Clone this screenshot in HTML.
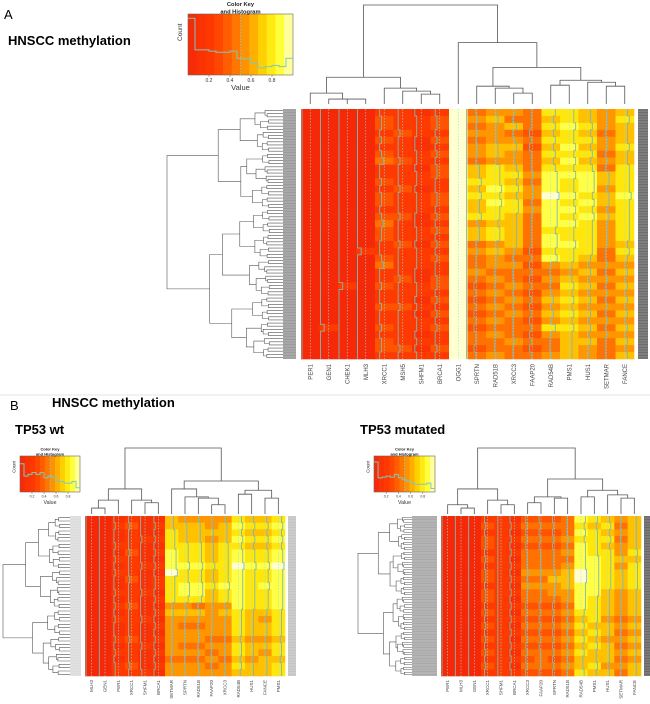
<!DOCTYPE html>
<html><head><meta charset="utf-8">
<style>
html,body{margin:0;padding:0;background:#fff;}
svg{display:block;font-family:"Liberation Sans",sans-serif;}
.ttl{font-family:"Liberation Sans",sans-serif;font-weight:bold;}
</style></head>
<body>
<svg id="fig" width="650" height="704" viewBox="0 0 650 704" xmlns="http://www.w3.org/2000/svg">
<text x="4" y="19" font-size="13">A</text>
<text x="8" y="45" font-size="13" class="ttl">HNSCC methylation</text>
<line x1="0" y1="395" x2="650" y2="395" stroke="#e4e4e4" stroke-width="1"/>
<text x="10" y="410" font-size="13">B</text>
<text x="52" y="407" font-size="13" class="ttl">HNSCC methylation</text>
<text x="15" y="434" font-size="13" class="ttl">TP53 wt</text>
<text x="360" y="434" font-size="13" class="ttl">TP53 mutated</text>
<g id="layer"></g>
</svg>
<script>
// ---------- DATA ----------
const colsA = ["PER1","GEN1","CHEK1","MLH3","XRCC1","MSH5","SHFM1","BRCA1","OGG1","SPRTN","RAD51B","XRCC3","FAAP20","RAD54B","PMS1","HUS1","SETMAR","FANCE"];
const valsA = [
"000000000000000000000000000000000000",
"000000000000000000000000000000020000",
"000000000000000000000000020000000000",
"000000000000000000002000000000000000",
"233232342232332343322342232232232332",
"222322232223222322232222322232222232",
"122211221221222112212221122121221212",
"233232323322332323232322332323232232",
"999999999999999999999999999999999999",
"454545546676766756645445434343434434",
"565556657778787767756554545454545445",
"546456556767677666665454454545444544",
"444343444545545444443434343434343434",
"767676767888988887887854545656575445",
"778778787877878787787765676767676666",
"667676767888787877777656565656565655",
"555455454665665655554454545454545444",
"676667667777877777767656565656565656"];
const colsBwt = ["MLH3","GEN1","PER1","XRCC1","SHFM1","BRCA1","SETMAR","SPRTN","RAD51B","FAAP20","XRCC3","RAD54B","HUS1","FANCE","PMS1"];
const valsBwt = [
"000000000000000000000000",
"000000000000000000000000",
"121121212112121211212122",
"232223222322232222322232",
"111211121112111211121112",
"121212121221212121212121",
"667778889777756555555455",
"566677787788756545545455",
"566677787788746545545455",
"556566676676655555454545",
"566677777787756555455455",
"787878898888887777677676",
"676767787777776666566566",
"676767787787776566565666",
"787878898888887777677677"];
const colsBmut = ["PER1","MLH3","GEN1","XRCC1","SHFM1","BRCA1","XRCC3","FAAP20","SPRTN","RAD51B","RAD54B","PMS1","HUS1","SETMAR","FANCE"];
const valsBmut = [
"000000000000000000000000",
"000000000000000000000000",
"000000000000000000000000",
"232332323323323232323232",
"222222222222222222222222",
"121212121212121212121212",
"343434445454434343434343",
"343434445454434343434443",
"343434445655434343434343",
"444545456665545454545454",
"878788889988887676767667",
"767777888888777767676676",
"676767777776666566566656",
"545455656665555454545454",
"666667677776666565656566"];
const histA = [0.95,0.42,0.42,0.4,0.38,0.38,0.4,0.28,0.27,0.2,0.12,0.14,0.16,0.14,0.28];
const histBwt = [0.8,0.45,0.5,0.55,0.5,0.55,0.4,0.45,0.42,0.3,0.3,0.25,0.25,0.3,0.12];
const histBmut = [0.85,0.4,0.42,0.45,0.42,0.5,0.4,0.35,0.3,0.25,0.22,0.22,0.22,0.25,0.1];
const keyTicks = ["0.2","0.4","0.6","0.8"];
const keyTickVals = [0.2,0.4,0.6,0.8];
const treeA = [1,[0.27,[0.11,0,[0.05,1,[0.05,2,3]]],[0.16,4,[0.13,5,[0.1,6,7]]]],[0.62,8,[0.37,[0.18,9,[0.16,10,[0.11,11,12]]],[0.24,[0.19,13,14],[0.22,15,[0.18,16,17]]]]]];
const treeBwt = [1,[0.38,[0.21,[0.09,0,1],2],[0.21,3,[0.17,4,5]]],[0.5,[0.38,6,[0.26,7,[0.24,8,[0.14,9,10]]]],[0.36,[0.3,11,12],[0.24,13,14]]]];
const treeBmut = [1,[0.38,[0.14,0,[0.09,1,2]],[0.21,3,[0.14,4,5]]],[0.53,[0.26,[0.17,6,7],[0.24,8,9]],[0.36,[0.26,10,11],[0.29,12,[0.24,13,14]]]]];

// ---------- HELPERS ----------
const NS="http://www.w3.org/2000/svg";
const layer=document.getElementById('layer');
function mk(tag,attrs,parent){const e=document.createElementNS(NS,tag);for(const k in attrs)e.setAttribute(k,attrs[k]);(parent||layer).appendChild(e);return e;}
const stops=[[0,[245,40,8]],[0.25,[255,60,0]],[0.45,[255,115,0]],[0.6,[255,165,0]],[0.75,[255,225,0]],[0.88,[255,255,60]],[1,[255,255,210]]];
function heat(v){v=Math.max(0,Math.min(1,v));for(let i=1;i<stops.length;i++){if(v<=stops[i][0]){const a=stops[i-1],b=stops[i];const t=(v-a[0])/(b[0]-a[0]);const c=a[1].map((x,j)=>Math.round(x+(b[1][j]-x)*t));return `rgb(${c[0]},${c[1]},${c[2]})`;}}return 'rgb(255,255,210)';}

function colorKey(g,x0,y0,w,h,hist,fs){
  const n=12;
  for(let i=0;i<n;i++){const r=mk('rect',{x:x0+i*w/n,y:y0,width:w/n+0.3,height:h,fill:heat((i+0.5)/n)},g);
    
    }
  mk('rect',{x:x0,y:y0,width:w,height:h,fill:'none',stroke:'#666','stroke-width':0.6},g);
  mk('line',{x1:x0+w*0.5,y1:y0,x2:x0+w*0.5,y2:y0+h,stroke:'#8cc','stroke-width':0.8,'stroke-dasharray':'1.5,1.5'},g);
  let d='';const bw=w/hist.length;
  hist.forEach((v,i)=>{const yy=y0+h-v*h*0.98;d+=(i===0?`M${x0} ${yy}`:`L${x0+i*bw} ${yy}`)+`L${x0+(i+1)*bw} ${yy}`;});
  const p=mk('path',{d:d,fill:'none',stroke:'#7fc8c0','stroke-width':1},g);
  
  
  keyTicks.forEach((t,i)=>{const xx=x0+keyTickVals[i]*w;
    mk('line',{x1:xx,y1:y0+h,x2:xx,y2:y0+h+2,stroke:'#666','stroke-width':0.5},g);
    const tx=mk('text',{x:xx,y:y0+h+fs+2,'font-size':fs,'text-anchor':'middle',fill:'#333'},g);tx.textContent=t;
    
    });
  const vt=mk('text',{x:x0+w/2,y:y0+h+fs*2+5,'font-size':fs*1.5,'text-anchor':'middle',fill:'#333'},g);vt.textContent='Value';
  
  
  const ct=mk('text',{x:0,y:0,'font-size':fs*1.3,'text-anchor':'middle',fill:'#333',transform:`translate(${x0-fs-1},${y0+h*0.3}) rotate(-90)`},g);ct.textContent='Count';
  
  
  const t1=mk('text',{x:x0+w/2,y:y0-fs*1.6,'font-size':fs*1.15,'text-anchor':'middle','font-weight':'bold',fill:'#222'},g);t1.textContent='Color Key';
  
  
  const t2=mk('text',{x:x0+w/2,y:y0-0.5,'font-size':fs*1.15,'text-anchor':'middle','font-weight':'bold',fill:'#222'},g);t2.textContent='and Histogram';
  
  
}

function heatmap(g,x0,y0,w,h,cols,vals,labY,fs){
  const nc=cols.length,cw=w/nc;
  vals.forEach((s,ci)=>{
    const nr=s.length,rh=h/nr;
    for(let r=0;r<nr;r++){const v=parseInt(s[r])/9;
      const c=mk('rect',{x:x0+ci*cw,y:y0+r*rh,width:cw+0.3,height:rh+0.3,fill:heat(v)},g);
      
      }
    mk('line',{x1:x0+ci*cw+cw*0.5,y1:y0,x2:x0+ci*cw+cw*0.5,y2:y0+h,stroke:'#9dd','stroke-width':0.6,'stroke-dasharray':'1.5,1.5'},g);
    let d='';
    for(let r=0;r<nr;r++){const v=parseInt(s[r])/9;const xx=x0+ci*cw+1+v*(cw-2);d+=(r===0?'M':'L')+xx+' '+(y0+r*rh)+'L'+xx+' '+(y0+(r+1)*rh);}
    const tr=mk('path',{d:d,fill:'none',stroke:'#80b8b0','stroke-width':0.9},g);
    
    
    const t=mk('text',{x:0,y:0,'font-size':fs,'text-anchor':'end',fill:'#444',transform:`translate(${x0+ci*cw+cw/2+fs*0.35},${labY}) rotate(-90)`},g);
    t.textContent=cols[ci];
    
    
  });
}

function colDendro(g,tree,x0,cw,top,bottom){
  let d='';
  function walk(n){
    if(typeof n==='number')return {x:x0+(n+0.5)*cw,y:bottom};
    const l=walk(n[1]),r=walk(n[2]);const y=bottom-n[0]*(bottom-top);
    d+=`M${l.x} ${l.y}V${y}H${r.x}V${r.y}`;
    return {x:(l.x+r.x)/2,y:y};
  }
  walk(tree);
  const p=mk('path',{d:d,fill:'none',stroke:'#555','stroke-width':0.8},g);
  
  
}

function rowDendro(g,xRoot,xTip,y0,h,N){
  let d='';const lh=h/N;
  function build(lo,hi){
    if(hi-lo===1)return {y:y0+(lo+0.5)*lh,x:xTip};
    const mid=lo+Math.floor((hi-lo)*(((lo*7+hi*3)%5)/20+0.4));
    const m=Math.max(lo+1,Math.min(hi-1,mid));
    const a=build(lo,m),b=build(m,hi);
    const size=(hi-lo)/N;
    const jit=((lo*13+hi*7)%9)/60;
    const hh=(hi-lo===N)?1:Math.min(0.95,Math.sqrt(size)*(0.75+jit));
    const x=xTip-hh*(xTip-xRoot);
    d+=`M${a.x} ${a.y}H${x}V${b.y}H${b.x}`;
    return {y:(a.y+b.y)/2,x:x};
  }
  build(0,N);
  const p=mk('path',{d:d,fill:'none',stroke:'#555','stroke-width':0.6},g);
  
  
}

function strip(g,x,y,w,h,fill,name){
  const r=mk('rect',{x:x,y:y,width:w,height:h,fill:fill},g);
  
  
  for(let yy=y+1;yy<y+h;yy+=1.6){mk('line',{x1:x,y1:yy,x2:x+w,y2:yy,stroke:'#fff','stroke-width':0.3,'stroke-opacity':0.5},g);}
}

// ---------- PANEL A ----------
const gA=mk('g',{});


colorKey(gA,188,14,105,61,histA,5);
colDendro(gA,treeA,301,333/18,5,104);
rowDendro(gA,167,283,109,250,80);
strip(gA,283,109,13,250,'#9a9a9a','row-labels-left');
heatmap(gA,301,109,333,250,colsA,valsA,364,6);
strip(gA,638,109,10,250,'#6a6a6a','row-labels-right');

// ---------- PANEL B wt ----------
const gB1=mk('g',{});


colorKey(gB1,20,456,60,36,histBwt,3.5);
colDendro(gB1,treeBwt,85,200/15,448,514);
rowDendro(gB1,3,70,516,160,48);
strip(gB1,70,516,11,160,'#dcdcdc','row-labels-left');
heatmap(gB1,85,516,200,160,colsBwt,valsBwt,680,4.5);
strip(gB1,288,516,8,160,'#c4c4c4','row-labels-right');

// ---------- PANEL B mutated ----------
const gB2=mk('g',{});


colorKey(gB2,374,456,61,36,histBmut,3.5);
colDendro(gB2,treeBmut,441,200/15,448,514);
rowDendro(gB2,358,412,516,160,64);
strip(gB2,412,516,25,160,'#a8a8a8','row-labels-left');
heatmap(gB2,441,516,200,160,colsBmut,valsBmut,680,4.5);
strip(gB2,644,516,6,160,'#666','row-labels-right');
</script>
</body></html>
